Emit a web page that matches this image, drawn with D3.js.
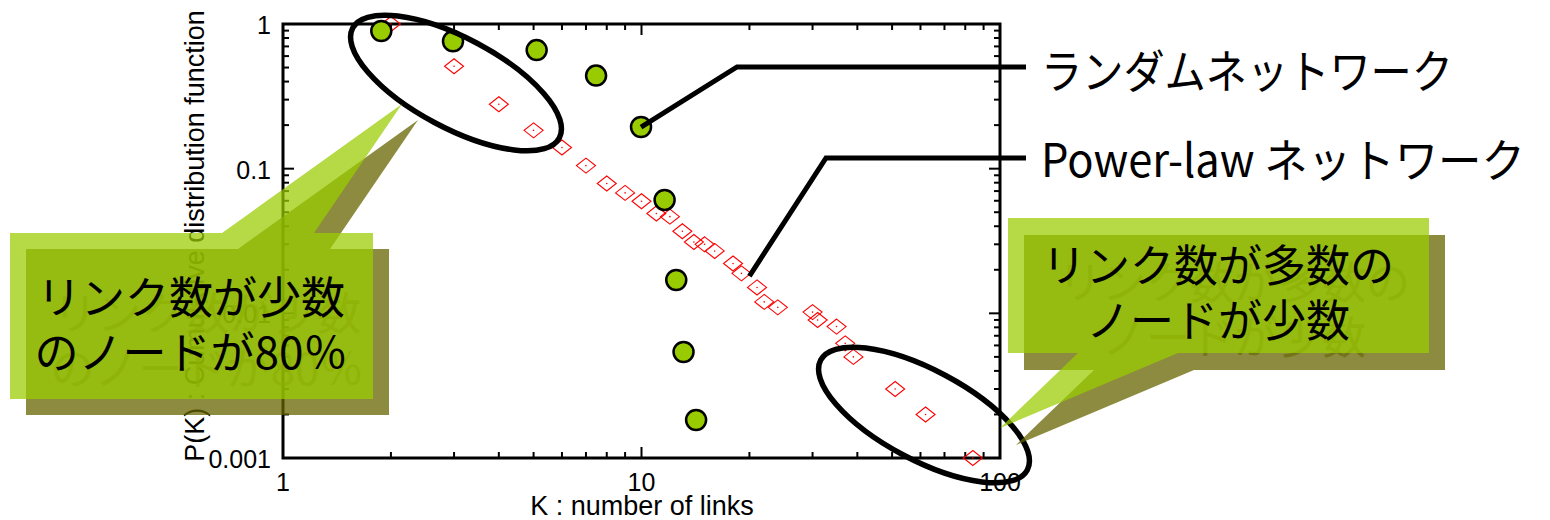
<!DOCTYPE html>
<html>
<head>
<meta charset="utf-8">
<script src="https://cdn.jsdelivr.net/npm/d3@7"></script>
<style>
  html, body { margin: 0; padding: 0; background: #ffffff; }
  svg { display: block; }
</style>
</head>
<body>
<svg id="chart" width="1550" height="520"></svg>
<script>
// Cumulative degree distribution: power-law vs. random network
const kPower = [2, 3, 4, 5, 6, 7, 8, 9, 10, 11, 12, 13, 14, 15, 16, 18, 19, 21, 22, 24, 30, 31, 35, 37, 39, 51, 62, 84];
const pPower = [1.0, 0.51, 0.279, 0.184, 0.14, 0.105, 0.079, 0.068, 0.0595, 0.049, 0.0466, 0.0369, 0.0311, 0.030, 0.027, 0.0221, 0.0189, 0.0151, 0.012, 0.011, 0.0102, 0.009, 0.0081, 0.0062, 0.005, 0.003, 0.002, 0.001];

const kRandom = [1.88, 2.98, 5.1, 7.47, 9.97, 11.6, 12.5, 13.1, 14.2];
const pRandom = [0.895, 0.76, 0.66, 0.44, 0.194, 0.0608, 0.017, 0.0054, 0.00183];

const xTickValues = [1, 10, 100];
const xTickLabels = ["1", "10", "100"];
const yTickValues = [1, 0.1, 0.01, 0.001];
const yTickLabels = ["1", "0.1", "0.01", "0.001"];

const xTitle = "K : number of links";
const yTitle = "P(K) : Cumulative distribution function";
const randomLabel = "ランダムネットワーク";
const powerLabel = "Power-law ネットワーク";
const fewLinksLines = ["リンク数が少数", "のノードが80％"];
const manyLinksLines = ["リンク数が多数の", "ノードが少数"];

// anchor points (data space) for the leader lines
const randomAnchor = [kRandom[4], pRandom[4]];
const powerAnchor = [20, 0.0181];

const svg = d3.select("#chart");
const latin = "'Liberation Sans', Arial, sans-serif";
const cjk = "'Noto Sans CJK JP', 'Noto Sans', sans-serif";

const x = d3.scaleLog().domain([1, 100]).range([283, 1000]);
const y = d3.scaleLog().domain([0.001, 1]).range([458, 24]);
const [x0, x1] = x.range();
const [y0, y1] = y.range();

// ---- axis titles (drawn first so the callout boxes sit over them)
svg.append("text")
  .attr("transform", `translate(204,236) rotate(-90)`)
  .attr("text-anchor", "middle")
  .attr("font-family", latin)
  .attr("font-size", 27)
  .attr("fill", "#000")
  .text(yTitle);

svg.append("text")
  .attr("x", 642).attr("y", 515)
  .attr("text-anchor", "middle")
  .attr("font-family", latin)
  .attr("font-size", 27)
  .attr("fill", "#000")
  .text(xTitle);

// ---- frame and inward ticks on all four sides
const frame = svg.append("g");
const isMajor = t => Math.abs(Math.log10(t) - Math.round(Math.log10(t))) < 1e-9;

x.ticks().forEach(t => {
  const len = isMajor(t) ? 11 : 6;
  const px = x(t);
  frame.append("line").attr("x1", px).attr("x2", px).attr("y1", y0).attr("y2", y0 - len);
  frame.append("line").attr("x1", px).attr("x2", px).attr("y1", y1).attr("y2", y1 + len);
});
y.ticks().forEach(t => {
  const len = isMajor(t) ? 11 : 6;
  const py = y(t);
  frame.append("line").attr("x1", x0).attr("x2", x0 + len).attr("y1", py).attr("y2", py);
  frame.append("line").attr("x1", x1).attr("x2", x1 - len).attr("y1", py).attr("y2", py);
});
frame.selectAll("line").attr("stroke", "#000").attr("stroke-width", 2);

frame.append("rect")
  .attr("x", x0).attr("y", y1)
  .attr("width", x1 - x0).attr("height", y0 - y1)
  .attr("fill", "none").attr("stroke", "#000").attr("stroke-width", 3);

// tick labels
svg.append("g").selectAll("text").data(xTickValues).join("text")
  .attr("x", d => x(d)).attr("y", 482)
  .attr("text-anchor", "middle")
  .attr("dominant-baseline", "central")
  .attr("font-family", latin).attr("font-size", 25)
  .text((d, i) => xTickLabels[i]);

svg.append("g").selectAll("text").data(yTickValues).join("text")
  .attr("x", 271).attr("y", d => y(d) + 1)
  .attr("text-anchor", "end")
  .attr("dominant-baseline", "central")
  .attr("font-family", latin).attr("font-size", 25)
  .text((d, i) => yTickLabels[i]);

// ---- power-law series: open red diamonds with a centre dot
const powerData = kPower.map((k, i) => ({ k, p: pPower[i] }));
const dia = svg.append("g").selectAll("g").data(powerData).join("g")
  .attr("transform", d => `translate(${x(d.k)},${y(d.p)})`);
dia.append("path")
  .attr("d", "M0,-7.5 L9.5,0 L0,7.5 L-9.5,0 Z")
  .attr("fill", "none").attr("stroke", "#ff0000").attr("stroke-width", 1.1);
dia.append("circle").attr("r", 0.8).attr("fill", "#ff0000");

// ---- random network series: green dots
const randomData = kRandom.map((k, i) => ({ k, p: pRandom[i] }));
svg.append("g").selectAll("circle").data(randomData).join("circle")
  .attr("cx", d => x(d.k)).attr("cy", d => y(d.p))
  .attr("r", 10)
  .attr("fill", "#99cc00").attr("stroke", "#000").attr("stroke-width", 2.5);

// ---- highlight ellipses
const ellipses = [
  { cx: 456, cy: 83, rx: 117, ry: 45, angle: 28 },
  { cx: 924, cy: 415, rx: 117, ry: 45, angle: 28 }
];
svg.append("g").selectAll("ellipse").data(ellipses).join("ellipse")
  .attr("transform", d => `translate(${d.cx},${d.cy}) rotate(${d.angle})`)
  .attr("rx", d => d.rx).attr("ry", d => d.ry)
  .attr("fill", "none").attr("stroke", "#000").attr("stroke-width", 5.5);

// ---- leader lines and series labels
const leader = d3.line();
svg.append("path")
  .attr("d", leader([[x(randomAnchor[0]), y(randomAnchor[1])], [737, 67], [1026, 67]]))
  .attr("fill", "none").attr("stroke", "#000").attr("stroke-width", 5);
svg.append("path")
  .attr("d", leader([[x(powerAnchor[0]), y(powerAnchor[1])], [826, 158], [1026, 158]]))
  .attr("fill", "none").attr("stroke", "#000").attr("stroke-width", 5);

svg.append("text")
  .attr("x", 1041).attr("y", 68)
  .attr("dominant-baseline", "central")
  .attr("font-family", cjk).attr("font-size", 46)
  .attr("textLength", 412).attr("lengthAdjust", "spacingAndGlyphs")
  .text(randomLabel);

svg.append("text")
  .attr("x", 1041).attr("y", 157)
  .attr("dominant-baseline", "central")
  .attr("font-family", cjk).attr("font-size", 46)
  .attr("textLength", 484).attr("lengthAdjust", "spacingAndGlyphs")
  .text(powerLabel);

// ---- callouts: translucent olive shadow, translucent green box, text
function callout(points, lines, lineY, cx, shift) {
  const g = svg.append("g");
  const poly = "M" + points.map(p => p.join(",")).join("L") + "Z";
  const [dx, dy] = shift;
  const sh = g.append("g").attr("transform", `translate(${dx},${dy})`);
  sh.append("path").attr("d", poly).attr("fill", "#656400").attr("fill-opacity", 0.75);
  lines.forEach((t, i) => {
    sh.append("text")
      .attr("x", cx).attr("y", lineY[i])
      .attr("text-anchor", "middle").attr("dominant-baseline", "central")
      .attr("font-family", cjk).attr("font-size", 44)
      .attr("fill", "#656400").attr("fill-opacity", 0.6)
      .text(t);
  });
  g.append("path").attr("d", poly).attr("fill", "#99cc00").attr("fill-opacity", 0.73);
  lines.forEach((t, i) => {
    g.append("text")
      .attr("x", cx).attr("y", lineY[i])
      .attr("text-anchor", "middle").attr("dominant-baseline", "central")
      .attr("font-family", cjk).attr("font-size", 44)
      .attr("fill", "#000")
      .text(t);
  });
}

callout(
  [[10, 233], [222, 233], [402, 104], [314, 233], [373, 233], [373, 399], [10, 399]],
  fewLinksLines, [295, 350], 191, [16, 16]
);

callout(
  [[1008, 218], [1429, 218], [1429, 353], [1178, 353], [1000, 428], [1078, 353], [1008, 353]],
  manyLinksLines, [263, 318], 1218, [16, 17]
);
</script>
</body>
</html>
